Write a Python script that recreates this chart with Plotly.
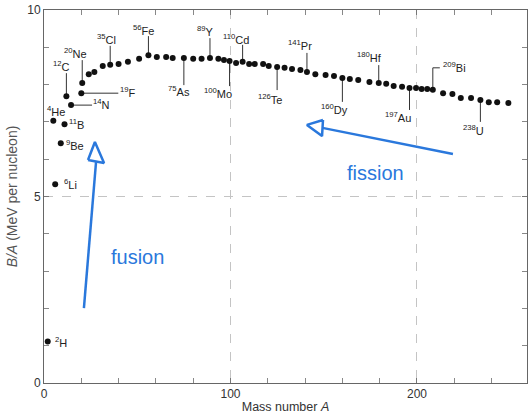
import plotly.graph_objects as go

# ---- data ----
mass_number = [2, 5, 6, 9, 11, 12, 14.5, 20, 20.5, 24, 27, 31.5, 35.5, 40, 45, 51, 56,
               60.5, 65.5, 69, 75, 80, 84.5, 89, 93.5, 96.5, 99.5, 103, 106.5, 110, 113,
               117.5, 120.5, 125, 129, 133, 137.5, 141, 145.5, 151, 155.5, 160, 164,
               168.5, 174.5, 179.5, 183.5, 187.5, 192, 196, 199.5, 202.5, 205.5, 208.5,
               214, 219, 223.5, 229, 234, 238.5, 243, 249]
binding_per_nucleon = [1.11, 7.03, 5.33, 6.43, 6.94, 7.69, 7.45, 7.77, 8.04, 8.28, 8.34,
                       8.50, 8.53, 8.55, 8.61, 8.69, 8.79, 8.74, 8.74, 8.71, 8.71, 8.69,
                       8.69, 8.71, 8.69, 8.66, 8.63, 8.58, 8.61, 8.55, 8.55, 8.55, 8.50,
                       8.47, 8.45, 8.42, 8.39, 8.34, 8.28, 8.26, 8.23, 8.18, 8.15, 8.12,
                       8.07, 8.04, 8.02, 7.96, 7.94, 7.91, 7.91, 7.88, 7.88, 7.86, 7.77,
                       7.75, 7.64, 7.64, 7.59, 7.53, 7.53, 7.51]

label_mass = [2, 4, 6, 9, 11, 12, 14, 19, 20, 35, 56, 75, 89, 100, 110, 126, 141, 160,
              180, 197, 209, 238]
label_symbol = ["H", "He", "Li", "Be", "B", "C", "N", "F", "Ne", "Cl", "Fe", "As", "Y",
                "Mo", "Cd", "Te", "Pr", "Dy", "Hf", "Au", "Bi", "U"]
label_index = [0, 1, 2, 3, 4, 5, 6, 7, 8, 12, 16, 20, 23, 26, 28, 33, 37, 41, 45, 49, 53, 58]

x_ticks = [0, 100, 200]
y_ticks = [0, 5, 10]

X_RANGE = [0, 259]
Y_RANGE = [0, 10]

# ---- label placement (pixel offsets from the dot: text dx, dy ; leader line path) ----
label_style = [
    (13, 0, None), (3, -10, None), (15, 0, None), (14, 2, None), (12, 0, None),
    (-5, -30, [(0, -23)]), (30, -1, [(21, 0)]), (47, -1, [(37, 0)]), (-7, -30, [(0, -23)]),
    (-4, -26, [(0, -19)]), (-5, -25, [(0, -19)]), (-5, 33, [(0, 27)]), (-4, -27, [(0, -20)]),
    (-12, 32, [(0, 25)]), (-7, -23, [(0, -17)]), (-7, 32, [(0, 23)]), (-7, -27, [(0, -19)]),
    (-8, 31, [(0, 24)]), (-9, -26, [(0, -18)]), (-12, 29, [(0, 22)]),
    (22, -23, [(0, -22), (7, -22)]),
    (-7, 30, [(0, 22)]),
]

# plot area size in pixels (531x416 minus margins) for pixel->data offset conversion
PLOT_W, PLOT_H = 531 - 44 - 4, 416 - 10 - 33
UX = (X_RANGE[1] - X_RANGE[0]) / PLOT_W
UY = (Y_RANGE[1] - Y_RANGE[0]) / PLOT_H

BLUE = "#2a78dc"
FONT = "Liberation Sans, Arial"

fig = go.Figure()

lx, ly = [], []
annotations = []
for m, sym, idx, (tdx, tdy, path) in zip(label_mass, label_symbol, label_index, label_style):
    xa, ya = mass_number[idx], binding_per_nucleon[idx]
    if path is not None:
        lx.append(xa)
        ly.append(ya)
        for pdx, pdy in path:
            lx.append(xa + pdx * UX)
            ly.append(ya - pdy * UY)
        lx.append(None)
        ly.append(None)
    annotations.append(dict(x=xa, y=ya, xref="x", yref="y",
                            text="<sup>%d</sup>%s" % (m, sym),
                            showarrow=False, xshift=tdx, yshift=-tdy,
                            font=dict(family=FONT, size=11, color="#222222")))

fig.add_trace(go.Scatter(x=lx, y=ly, mode="lines", line=dict(color="#333333", width=1),
                         hoverinfo="skip", showlegend=False))

fig.add_trace(go.Scatter(
    x=mass_number, y=binding_per_nucleon, mode="markers",
    marker=dict(color="#111111", size=6), hoverinfo="skip", showlegend=False))

# fusion / fission arrows (open triangular heads)
fusion_shaft = ([21.4, 27.9], [2.01, 5.92])
fusion_head = ([23.6, 27.3, 32.2, 23.6], [5.98, 6.46, 5.90, 5.98])
fission_shaft = ([219.3, 149.3], [6.14, 6.84])
fission_head = ([149.6, 141.0, 149.1, 149.6], [7.05, 6.92, 6.62, 7.05])
for sx, sy in (fusion_shaft, fission_shaft):
    fig.add_trace(go.Scatter(x=sx, y=sy, mode="lines", line=dict(color=BLUE, width=2.5),
                             hoverinfo="skip", showlegend=False))
for hx, hy in (fusion_head, fission_head):
    fig.add_trace(go.Scatter(x=hx, y=hy, mode="lines", fill="toself", fillcolor="white",
                             line=dict(color=BLUE, width=2.5), hoverinfo="skip",
                             showlegend=False))

annotations.append(dict(x=50.4, y=3.38, xref="x", yref="y", text="fusion", showarrow=False,
                        font=dict(family=FONT, size=20, color=BLUE)))
annotations.append(dict(x=178, y=5.63, xref="x", yref="y", text="fission", showarrow=False,
                        font=dict(family=FONT, size=20, color=BLUE)))

axis_common = dict(
    showline=True, linecolor="#666666", linewidth=1, mirror="ticks",
    ticks="inside", ticklen=5, tickcolor="#777777",
    showgrid=True, gridcolor="#c4c4c4", griddash="dash", gridwidth=1,
    zeroline=False, tickfont=dict(family=FONT, size=12, color="#333333"),
)

fig.update_layout(
    width=531, height=416,
    margin=dict(l=44, r=4, t=10, b=33),
    paper_bgcolor="white", plot_bgcolor="white",
    showlegend=False,
    annotations=annotations,
    xaxis=dict(range=X_RANGE, tickvals=x_ticks, ticktext=[str(v) for v in x_ticks],
               minor=dict(dtick=20, ticks="inside", ticklen=5, tickcolor="#888888", showgrid=False),
               title=dict(text="Mass number <i>A</i>", standoff=1,
                          font=dict(family=FONT, size=12.5, color="#333333")),
               **axis_common),
    yaxis=dict(range=Y_RANGE, tickvals=y_ticks, ticktext=[str(v) for v in y_ticks],
               minor=dict(dtick=1, ticks="inside", ticklen=5, tickcolor="#888888", showgrid=False),
               title=dict(text="<i>B/A</i> (MeV per nucleon)", standoff=6,
                          font=dict(family=FONT, size=14, color="#555555")),
               **axis_common),
)

fig.write_html("out.html")
